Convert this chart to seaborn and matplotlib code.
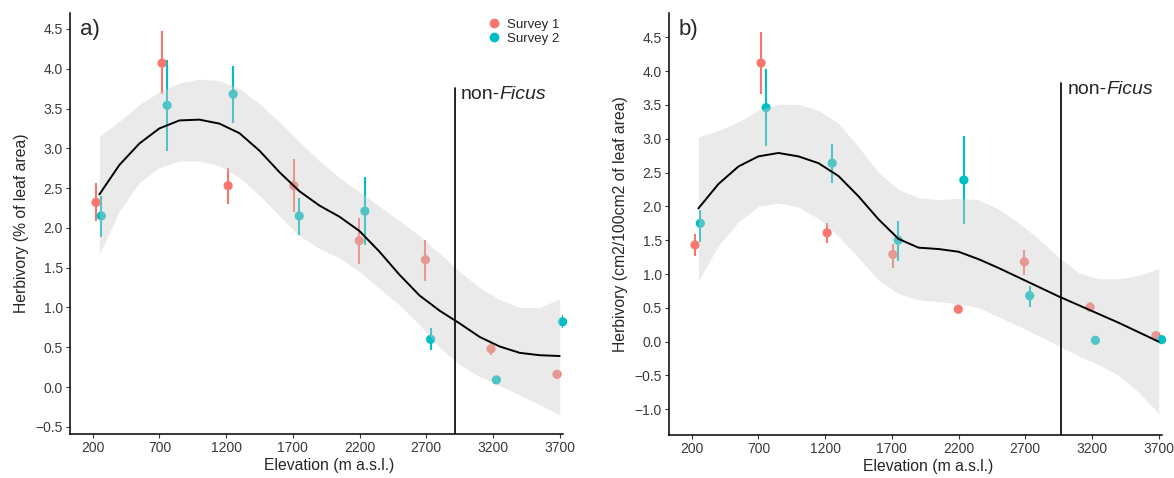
"""
Herbivory along the elevation gradient, two surveys, with smooth fit
"""
import numpy as np
import pandas as pd
import matplotlib
matplotlib.use('Agg')
import matplotlib.pyplot as plt
from matplotlib.lines import Line2D
import seaborn as sns

# elevation of the dodged points (m a.s.l.)
s1_elev = [225, 720, 1215, 1708, 2198, 2694, 3186, 3680]
s2_elev = [265, 758, 1253, 1748, 2240, 2733, 3226, 3722]

# panel a: % of leaf area
s1_a = [2.32, 4.07, 2.53, 2.53, 1.84, 1.60, 0.48, 0.16]
s1_a_lo = [2.09, 3.68, 2.30, 2.20, 1.55, 1.33, 0.40, 0.16]
s1_a_hi = [2.56, 4.47, 2.75, 2.86, 2.12, 1.85, 0.55, 0.16]
s2_a = [2.15, 3.54, 3.68, 2.15, 2.21, 0.60, 0.09, 0.82]
s2_a_lo = [1.88, 2.97, 3.32, 1.91, 1.78, 0.46, 0.09, 0.74]
s2_a_hi = [2.40, 4.11, 4.04, 2.37, 2.64, 0.74, 0.09, 0.90]

# panel b: cm2/100cm2 of leaf area
s1_b = [1.43, 4.12, 1.61, 1.29, 0.48, 1.18, 0.51, 0.09]
s1_b_lo = [1.26, 3.66, 1.46, 1.09, 0.44, 0.98, 0.46, 0.09]
s1_b_hi = [1.59, 4.58, 1.76, 1.45, 0.52, 1.36, 0.59, 0.09]
s2_b = [1.75, 3.46, 2.64, 1.50, 2.39, 0.68, 0.02, 0.03]
s2_b_lo = [1.48, 2.89, 2.34, 1.19, 1.74, 0.52, 0.02, 0.03]
s2_b_hi = [1.95, 4.03, 2.92, 1.79, 3.04, 0.82, 0.02, 0.03]

# smooth fit and confidence band
fit_elev = [250, 400, 550, 700, 850, 1000, 1150, 1300, 1450, 1600, 1750, 1900,
            2050, 2200, 2350, 2500, 2650, 2800, 2950, 3100, 3250, 3400, 3550, 3700]
fit_a = [2.42, 2.79, 3.06, 3.25, 3.35, 3.36, 3.31, 3.19, 2.97, 2.70, 2.46, 2.28,
         2.14, 1.96, 1.70, 1.41, 1.15, 0.96, 0.80, 0.63, 0.51, 0.43, 0.40, 0.39]
fit_a_hi = [3.15, 3.34, 3.55, 3.71, 3.82, 3.87, 3.85, 3.75, 3.56, 3.33, 3.08, 2.84,
            2.63, 2.45, 2.27, 2.09, 1.90, 1.68, 1.45, 1.25, 1.10, 1.00, 1.00, 1.11]
fit_a_lo = [1.67, 2.21, 2.57, 2.76, 2.84, 2.84, 2.78, 2.63, 2.41, 2.15, 1.90, 1.74,
            1.62, 1.45, 1.24, 1.03, 0.78, 0.50, 0.28, 0.13, 0.02, -0.10, -0.22, -0.35]
fit_b = [1.97, 2.33, 2.59, 2.74, 2.79, 2.74, 2.64, 2.45, 2.15, 1.81, 1.52, 1.39,
         1.37, 1.33, 1.22, 1.09, 0.95, 0.81, 0.67, 0.54, 0.41, 0.28, 0.14, 0.00]
fit_b_hi = [3.03, 3.12, 3.25, 3.42, 3.51, 3.51, 3.42, 3.23, 2.88, 2.50, 2.25, 2.13,
            2.10, 2.12, 2.10, 1.96, 1.76, 1.52, 1.25, 1.02, 0.93, 0.93, 0.98, 1.08]
fit_b_lo = [0.90, 1.42, 1.77, 2.00, 2.05, 1.99, 1.82, 1.56, 1.24, 0.91, 0.71, 0.62,
            0.59, 0.56, 0.50, 0.37, 0.23, 0.09, -0.06, -0.21, -0.34, -0.50, -0.75, -1.06]

# non-Ficus boundary
nonficus_a = (2913, 3.76)
nonficus_b = (2970, 3.82)

x_ticks = [200, 700, 1200, 1700, 2200, 2700, 3200, 3700]
palette = {'Survey 1': '#F8766D', 'Survey 2': '#00BFC4'}

sns.set_theme(style='ticks')
plt.rcParams['font.family'] = ['Liberation Sans', 'DejaVu Sans']


def make_frame(s1, s1_lo, s1_hi, s2, s2_lo, s2_hi):
    d1 = pd.DataFrame({'elev': s1_elev, 'val': s1, 'lo': s1_lo, 'hi': s1_hi, 'survey': 'Survey 1'})
    d2 = pd.DataFrame({'elev': s2_elev, 'val': s2, 'lo': s2_lo, 'hi': s2_hi, 'survey': 'Survey 2'})
    return pd.concat([d1, d2], ignore_index=True)


def draw_panel(ax, df, fit, fit_lo, fit_hi, vline, ylim, yticks, ylabel, tag):
    # points + error bars
    for survey, sub in df.groupby('survey'):
        ax.vlines(sub['elev'], sub['lo'], sub['hi'], color=palette[survey], lw=1.5, zorder=2)
    sns.scatterplot(data=df, x='elev', y='val', hue='survey', palette=palette,
                    s=44, edgecolor='none', legend=False, ax=ax, zorder=2, clip_on=False)

    # smooth ribbon over the points, then the line
    ax.fill_between(fit_elev, fit_lo, fit_hi, color='#CCCCCC', alpha=0.4, lw=0, zorder=3)
    sns.lineplot(x=fit_elev, y=fit, color='black', lw=1.4, ax=ax, zorder=4)

    # non-Ficus line
    ax.plot([vline[0], vline[0]], [ylim[0], vline[1]], color='black', lw=1.2, zorder=5)
    t1 = ax.text(vline[0] + 45, vline[1] - 0.09, 'non-', fontsize=14, va='center', ha='left')
    ax.annotate('Ficus', xy=(1, 0), xycoords=t1, va='bottom', ha='left',
                fontsize=14, style='italic')

    ax.text(0.02, 0.985, tag, transform=ax.transAxes, fontsize=16, va='top', ha='left')

    ax.set_xlim(30, 3725)
    ax.set_ylim(*ylim)
    ax.set_xticks(x_ticks)
    ax.set_yticks(yticks)
    ax.set_xlabel('Elevation (m a.s.l.)', fontsize=11.3)
    ax.set_ylabel(ylabel, fontsize=11.3, labelpad=5)
    ax.xaxis.set_label_coords(0.526, -0.058)
    ax.tick_params(length=3, width=0.8, color='#333333', labelcolor='#3A3A3A',
                   labelsize=10, pad=2)
    sns.despine(ax=ax)
    for side in ['left', 'bottom']:
        ax.spines[side].set_linewidth(1.1)
        ax.spines[side].set_color('black')


fig = plt.figure(figsize=(11.74, 4.78), dpi=100)
ax_a = fig.add_axes([70 / 1174, 44 / 478, 493 / 1174, 421 / 478])
ax_b = fig.add_axes([669 / 1174, 43 / 478, 493 / 1174, 422 / 478])

df_a = make_frame(s1_a, s1_a_lo, s1_a_hi, s2_a, s2_a_lo, s2_a_hi)
df_b = make_frame(s1_b, s1_b_lo, s1_b_hi, s2_b, s2_b_lo, s2_b_hi)

draw_panel(ax_a, df_a, fit_a, fit_a_lo, fit_a_hi, nonficus_a, (-0.59, 4.70),
           np.arange(-0.5, 4.51, 0.5), 'Herbivory (% of leaf area)', 'a)')
draw_panel(ax_b, df_b, fit_b, fit_b_lo, fit_b_hi, nonficus_b, (-1.38, 4.86),
           np.arange(-1.0, 4.51, 0.5), 'Herbivory (cm2/100cm2 of leaf area)', 'b)')

handles = [Line2D([], [], marker='o', ls='none', color=c, markersize=6) for c in palette.values()]
ax_a.legend(handles, list(palette.keys()), loc='upper left', bbox_to_anchor=(0.843, 0.99),
            frameon=False, fontsize=9.5, handletextpad=0.5, labelspacing=0.12,
            handlelength=1.0, borderaxespad=0, borderpad=0.1)

fig.savefig('out.png', dpi=100)
